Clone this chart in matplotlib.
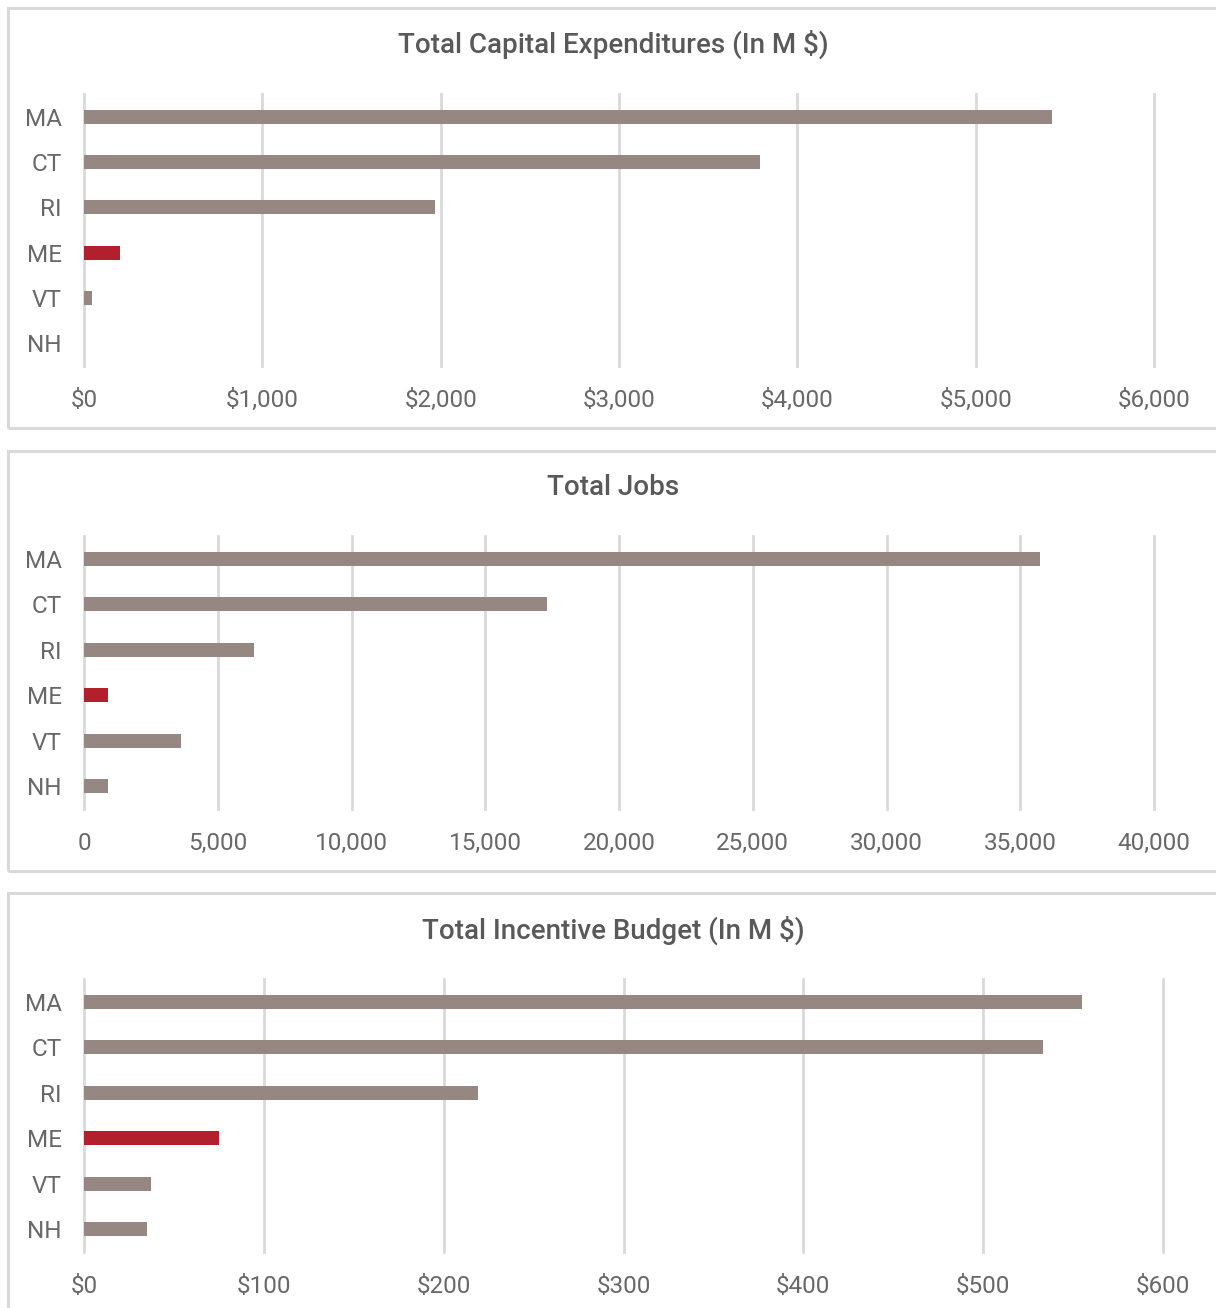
import matplotlib
matplotlib.use("Agg")
import matplotlib.pyplot as plt
from matplotlib.patches import Rectangle
from matplotlib.ticker import FuncFormatter

plt.rcParams['font.family'] = ['Roboto', 'DejaVu Sans']

states = ["MA", "CT", "RI", "ME", "VT", "NH"]
capex = [5430, 3790, 1966, 202, 45, 0]
jobs = [35740, 17310, 6350, 900, 3630, 900]
incentive = [555, 533, 219, 75, 37, 35]

titles = ["Total Capital Expenditures (In M $)", "Total Jobs", "Total Incentive Budget (In M $)"]
xmax = [6000, 40000, 600]
xstep = [1000, 5000, 100]
fmts = ["${:,.0f}", "{:,.0f}", "${:,.0f}"]
highlight = "ME"

GRAY = "#968782"
RED = "#b3202d"
GRID = "#d9d9d9"
TXT = "#595959"
TICK = "#686868"

W, H = 1216, 1308
fig = plt.figure(figsize=(W / 100, H / 100), dpi=100)
fig.patch.set_facecolor("white")

panel_boxes = [(8, 8, 1230, 428), (8, 451, 1230, 871), (8, 893, 1230, 1330)]
axes_boxes = [(84, 94.4, 1154, 365.6), (84, 536.4, 1154, 808.6), (84, 979.4, 1163, 1251.6)]
title_y = [44, 487, 930]

def fx(px):
    return px / W

def fy(py):
    return 1 - py / H

for (x0, y0, x1, y1) in panel_boxes:
    fig.patches.append(Rectangle((fx(x0), fy(y1)), fx(x1 - x0), (y1 - y0) / H,
                                 transform=fig.transFigure, fill=False,
                                 edgecolor=GRID, linewidth=2.2, zorder=0))

datasets = [capex, jobs, incentive]
for i, data in enumerate(datasets):
    l, t, r, b = axes_boxes[i]
    ax = fig.add_axes([fx(l), fy(b), fx(r - l), (b - t) / H])
    colors = [RED if s == highlight else GRAY for s in states]
    ax.barh(states, data, height=0.31, color=colors, zorder=3)
    ax.set_ylim(len(states) - 0.5, -0.5)
    ax.set_xlim(0, xmax[i])
    ax.set_xticks(range(0, xmax[i] + 1, xstep[i]))
    f = fmts[i]
    ax.xaxis.set_major_formatter(FuncFormatter(lambda v, p, f=f: f.format(v)))
    ax.grid(axis="x", color=GRID, linewidth=2.0, zorder=0, clip_on=False)
    ax.set_axisbelow(True)
    for s in ax.spines.values():
        s.set_visible(False)
    ax.tick_params(axis="both", length=0, labelsize=17.5, labelcolor=TICK)
    ax.tick_params(axis="x", pad=17)
    ax.tick_params(axis="y", pad=16)
    fig.text(fx(613), fy(title_y[i]), titles[i], ha="center", va="center",
             fontsize=20, fontweight="medium", color=TXT)

fig.savefig("out.png", dpi=100, facecolor="white")
